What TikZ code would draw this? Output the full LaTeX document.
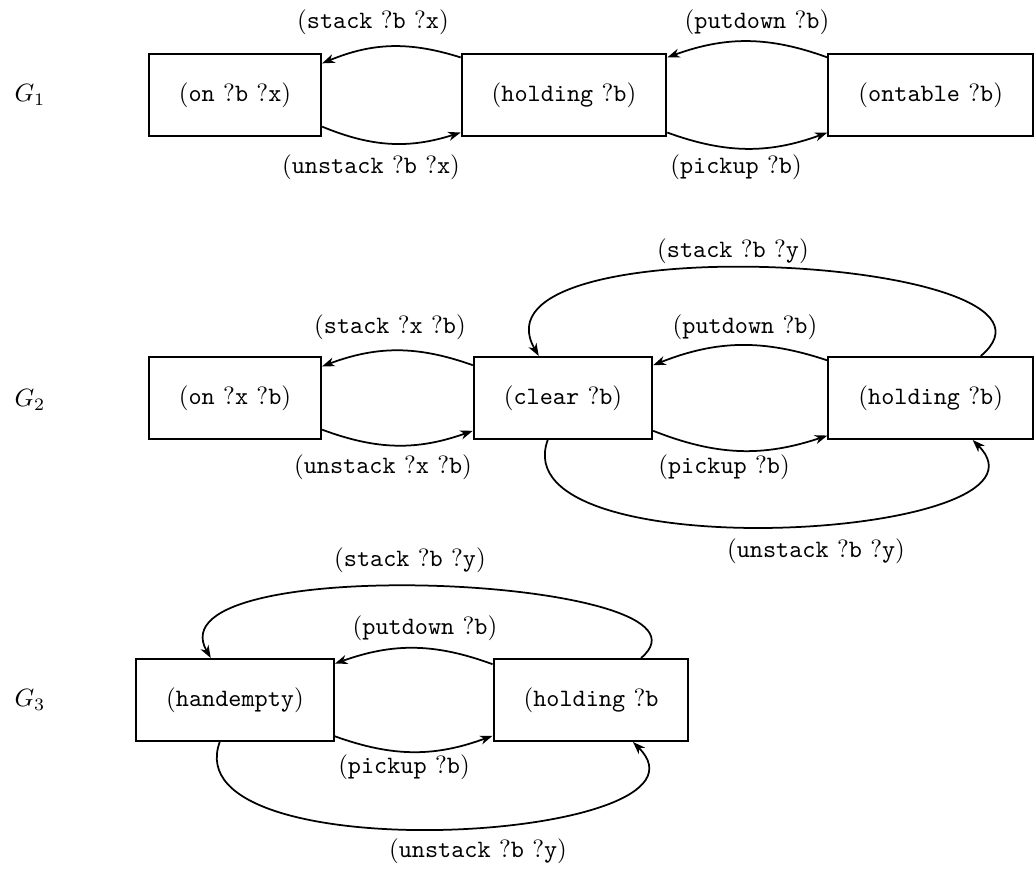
\documentclass[tikz,border=0pt]{standalone}
\usetikzlibrary{arrows.meta}
\newcommand\tw[1]{\texttt{#1}}
\begin{document}
\begin{tikzpicture}[x=0.4pt, y=0.4pt,
  state/.style={draw, line width=0.8pt, inner xsep=12pt, inner ysep=0pt, minimum height=32.8pt},
  trans/.style={line width=0.7pt, -{Stealth[length=5pt, width=3.6pt, inset=1.5pt]}},
  act/.style={inner sep=0pt},
  gname/.style={inner sep=0pt}]
\useasboundingbox (0,0) rectangle (1034,-870);

% ---------- G1 ----------
\node[gname] (g1) at (30,-95) {$G_1$};
\node[state] (on1) at (235,-95) {$(\tw{on}\ ?\tw{b}\ ?\tw{x})$};
\node[state] (hold1) at (564,-95) {$(\tw{holding}\ ?\tw{b})$};
\node[state, anchor=east] (table1) at (1034,-95) {$(\tw{ontable}\ ?\tw{b})$};

\draw[trans] (hold1) to[bend right=20] (on1);
\draw[trans] (on1) to[bend right=20] (hold1);
\draw[trans] (table1) to[bend right=20] (hold1);
\draw[trans] (hold1) to[bend right=20] (table1);

\node[act] (s1) at (373,-22) {$(\tw{stack}\ ?\tw{b}\ ?\tw{x})$};
\node[act] (u1) at (371,-167) {$(\tw{unstack}\ ?\tw{b}\ ?\tw{x})$};
\node[act] (pd1) at (757,-22) {$(\tw{putdown}\ ?\tw{b})$};
\node[act] (pu1) at (736,-167) {$(\tw{pickup}\ ?\tw{b})$};

% ---------- G2 ----------
\node[gname] (g2) at (30,-400) {$G_2$};
\node[state] (on2) at (235,-398) {$(\tw{on}\ ?\tw{x}\ ?\tw{b})$};
\node[state] (clear2) at (563,-398) {$(\tw{clear}\ ?\tw{b})$};
\node[state, anchor=east] (hold2) at (1034,-398) {$(\tw{holding}\ ?\tw{b})$};

\draw[trans] (clear2) to[bend right=20] (on2);
\draw[trans] (on2) to[bend right=20] (clear2);
\draw[trans] (hold2) to[bend right=20] (clear2);
\draw[trans] (clear2) to[bend right=20] (hold2);
\draw[trans] (hold2) to[out=40, in=120, looseness=0.9] (clear2);
\draw[trans] (clear2) to[out=-110, in=-45, looseness=0.85] (hold2);

\node[act] (s2) at (390,-327) {$(\tw{stack}\ ?\tw{x}\ ?\tw{b})$};
\node[act] (u2) at (383,-467) {$(\tw{unstack}\ ?\tw{x}\ ?\tw{b})$};
\node[act] (pd2) at (745,-327) {$(\tw{putdown}\ ?\tw{b})$};
\node[act] (pu2) at (724,-467) {$(\tw{pickup}\ ?\tw{b})$};
\node[act] (sy2) at (733,-251) {$(\tw{stack}\ ?\tw{b}\ ?\tw{y})$};
\node[act] (uy2) at (816,-551) {$(\tw{unstack}\ ?\tw{b}\ ?\tw{y})$};

% ---------- G3 ----------
\node[gname] (g3) at (30,-700) {$G_3$};
\node[state] (empty3) at (235,-700) {$(\tw{handempty})$};
\node[state] (hold3) at (591,-700) {$(\tw{holding}\ ?\tw{b}$};

\draw[trans] (hold3) to[bend right=20] (empty3);
\draw[trans] (empty3) to[bend right=20] (hold3);
\draw[trans] (hold3) to[out=40, in=120, looseness=0.75] (empty3);
\draw[trans] (empty3) to[out=-110, in=-45, looseness=0.875] (hold3);

\node[act] (sy3) at (410,-560) {$(\tw{stack}\ ?\tw{b}\ ?\tw{y})$};
\node[act] (pd3) at (425,-628) {$(\tw{putdown}\ ?\tw{b})$};
\node[act] (pu3) at (404,-767) {$(\tw{pickup}\ ?\tw{b})$};
\node[act] (uy3) at (478,-851) {$(\tw{unstack}\ ?\tw{b}\ ?\tw{y})$};
\end{tikzpicture}
\end{document}
